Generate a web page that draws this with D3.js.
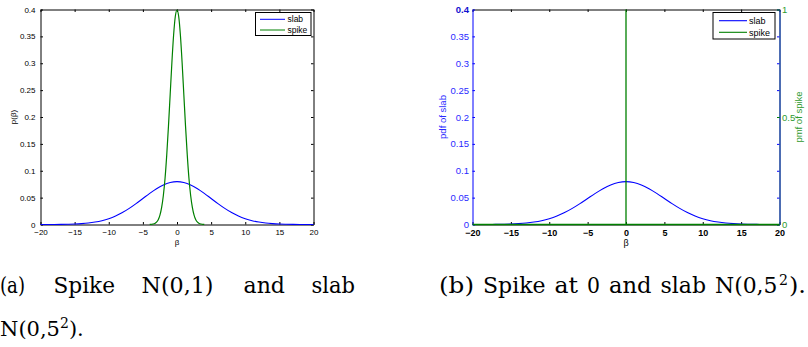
<!DOCTYPE html>
<html>
<head>
<meta charset="utf-8">
<script src="https://cdn.jsdelivr.net/npm/d3@7"></script>
<style>
  body { margin: 0; background: #fff; }
  svg { display: block; }
</style>
</head>
<body>
<svg id="fig" width="808" height="347"></svg>
<script>
// ---- data -------------------------------------------------------------
const betaTicks = [-20, -15, -10, -5, 0, 5, 10, 15, 20];
const betaTickLabels = ["\u221220", "\u221215", "\u221210", "\u22125", "0", "5", "10", "15", "20"];
const densityTicks = [0, 0.05, 0.1, 0.15, 0.2, 0.25, 0.3, 0.35, 0.4];
const densityTickLabels = ["0", "0.05", "0.1", "0.15", "0.2", "0.25", "0.3", "0.35", "0.4"];
const pmfTicks = [0, 0.5, 1];
const pmfTickLabels = ["0", "0.5", "1"];

// slab density N(0,5^2), sampled at integer beta
const slabBeta = [-20, -19, -18, -17, -16, -15, -14, -13, -12, -11, -10, -9, -8, -7, -6, -5, -4, -3, -2, -1,
  0, 1, 2, 3, 4, 5, 6, 7, 8, 9, 10, 11, 12, 13, 14, 15, 16, 17, 18, 19, 20];
const slabDensity = [0.0000, 0.0001, 0.0001, 0.0002, 0.0005, 0.0009, 0.0016, 0.0027, 0.0045, 0.0071,
  0.0108, 0.0158, 0.0222, 0.0300, 0.0389, 0.0484, 0.0579, 0.0666, 0.0737, 0.0782,
  0.0798,
  0.0782, 0.0737, 0.0666, 0.0579, 0.0484, 0.0389, 0.0300, 0.0222, 0.0158, 0.0108,
  0.0071, 0.0045, 0.0027, 0.0016, 0.0009, 0.0005, 0.0002, 0.0001, 0.0001, 0.0000];

// spike density N(0,1), sampled every quarter unit
const spikeBeta = [-4, -3.75, -3.5, -3.25, -3, -2.75, -2.5, -2.25, -2, -1.75, -1.5, -1.25, -1, -0.75, -0.5, -0.25,
  0, 0.25, 0.5, 0.75, 1, 1.25, 1.5, 1.75, 2, 2.25, 2.5, 2.75, 3, 3.25, 3.5, 3.75, 4];
const spikeDensity = [0.0001, 0.0004, 0.0009, 0.002, 0.0044, 0.009, 0.0175, 0.032, 0.054, 0.086, 0.130, 0.183,
  0.242, 0.301, 0.352, 0.387,
  0.399,
  0.387, 0.352, 0.301, 0.242, 0.183, 0.130, 0.086, 0.054, 0.032, 0.0175, 0.009, 0.0044, 0.002, 0.0009, 0.0004, 0.0001];

// spike as a point mass at 0
const pointMassBeta = [-20, 0, 0, 0, 20];
const pointMassProb = [0, 0, 1, 0, 0];

const seriesNames = ["slab", "spike"];

// ---- styling ----------------------------------------------------------
const BLUE = "#0000ff", GREEN = "#008000";
const SANS = "'Liberation Sans', Arial, sans-serif";
const SERIF = "'DejaVu Serif', 'Liberation Serif', serif";

const svg = d3.select("#fig");
svg.append("rect").attr("width", 808).attr("height", 347).attr("fill", "#fff");

function styleAxis(g, color, fontSize, weight) {
  g.select(".domain").attr("stroke", color).attr("stroke-width", 1);
  g.selectAll(".tick line").attr("stroke", color).attr("stroke-width", 1);
  g.selectAll(".tick text").attr("fill", color).attr("font-family", SANS)
    .attr("font-size", fontSize).attr("font-weight", weight || "normal");
  g.attr("font-family", null).attr("font-size", null);
  return g;
}
function labelFrom(values, labels) {
  return d => labels[values.indexOf(d)];
}

// ---- panel (a): two densities -----------------------------------------
{
  const x = d3.scaleLinear().domain([-20, 20]).range([40.5, 313.5]);
  const y = d3.scaleLinear().domain([0, 0.4]).range([224.5, 9.5]);
  const g = svg.append("g");
  const fs = 8;

  styleAxis(g.append("g").attr("transform", `translate(0,${y(0)})`)
    .call(d3.axisBottom(x).tickValues(betaTicks).tickFormat(labelFrom(betaTicks, betaTickLabels))
      .tickSize(-2.5).tickSizeOuter(0).tickPadding(5)), "#000", fs);
  styleAxis(g.append("g").attr("transform", `translate(0,${y(0.4)})`)
    .call(d3.axisTop(x).tickValues(betaTicks).tickFormat("").tickSize(-2.5).tickSizeOuter(0)), "#000", fs);
  styleAxis(g.append("g").attr("transform", `translate(${x(-20)},0)`)
    .call(d3.axisLeft(y).tickValues(densityTicks).tickFormat(labelFrom(densityTicks, densityTickLabels))
      .tickSize(-2.5).tickSizeOuter(0).tickPadding(5)), "#000", fs);
  styleAxis(g.append("g").attr("transform", `translate(${x(20)},0)`)
    .call(d3.axisRight(y).tickValues(densityTicks).tickFormat("").tickSize(-2.5).tickSizeOuter(0)), "#000", fs);

  const slabLine = d3.line().x(i => x(slabBeta[i])).y(i => y(slabDensity[i])).curve(d3.curveMonotoneX);
  const spikeLine = d3.line().x(i => x(spikeBeta[i])).y(i => y(spikeDensity[i])).curve(d3.curveMonotoneX);
  g.append("path").attr("d", slabLine(d3.range(slabBeta.length)))
    .attr("fill", "none").attr("stroke", BLUE).attr("stroke-width", 1.1);
  g.append("path").attr("d", spikeLine(d3.range(spikeBeta.length)))
    .attr("fill", "none").attr("stroke", GREEN).attr("stroke-width", 1.2);

  g.append("text").attr("x", (x(-20) + x(20)) / 2).attr("y", 244.5).attr("text-anchor", "middle")
    .attr("font-family", SANS).attr("font-size", fs).text("\u03b2");
  g.append("text").attr("transform", `translate(15.5,${(y(0) + y(0.4)) / 2}) rotate(-90)`)
    .attr("text-anchor", "middle").attr("font-family", SANS).attr("font-size", fs).text("p(\u03b2)");

  // legend
  const lg = g.append("g");
  lg.append("rect").attr("x", 255.5).attr("y", 12.5).attr("width", 55.5).attr("height", 23)
    .attr("fill", "#fff").attr("stroke", "#000").attr("stroke-width", 1);
  [BLUE, GREEN].forEach((c, i) => {
    const yy = 19.3 + i * 10.7;
    lg.append("line").attr("x1", 260).attr("x2", 285).attr("y1", yy).attr("y2", yy)
      .attr("stroke", c).attr("stroke-width", 1);
    lg.append("text").attr("x", 287.5).attr("y", yy + 3).attr("font-family", SANS)
      .attr("font-size", 8.5).text(seriesNames[i]);
  });
}

// ---- panel (b): slab density with point-mass spike --------------------
{
  const x = d3.scaleLinear().domain([-20, 20]).range([472.5, 779.5]);
  const y = d3.scaleLinear().domain([0, 0.4]).range([224.5, 9.5]);
  const y2 = d3.scaleLinear().domain([0, 1]).range([224.5, 9.5]);
  const g = svg.append("g");
  const fs = 9.5;

  styleAxis(g.append("g").attr("transform", `translate(0,${y(0)})`)
    .call(d3.axisBottom(x).tickValues(betaTicks).tickFormat(labelFrom(betaTicks, betaTickLabels))
      .tickSize(-2.5).tickSizeOuter(0).tickPadding(5.5)), "#000", 9, "bold");
  styleAxis(g.append("g").attr("transform", `translate(0,${y(0.4)})`)
    .call(d3.axisTop(x).tickValues(betaTicks).tickFormat("").tickSize(-2.5).tickSizeOuter(0)), "#000", fs);
  const leftAx = styleAxis(g.append("g").attr("transform", `translate(${x(-20)},0)`)
    .call(d3.axisLeft(y).tickValues(densityTicks).tickFormat(labelFrom(densityTicks, densityTickLabels))
      .tickSize(-2.5).tickSizeOuter(0).tickPadding(3.5)), BLUE, fs);
  leftAx.selectAll(".tick text").attr("fill", "#2a2aff");
  leftAx.selectAll(".tick text").filter(d => d === 0.4).attr("font-weight", "bold").attr("fill", "#1010d0");
  // mirrored slab ticks on the right edge
  styleAxis(g.append("g").attr("transform", `translate(${x(20)},0)`)
    .call(d3.axisRight(y).tickValues(densityTicks).tickFormat("").tickSize(-2.5).tickSizeOuter(0)), BLUE, fs);
  const rightAx = styleAxis(g.append("g").attr("transform", `translate(${x(20)},0)`)
    .call(d3.axisRight(y2).tickValues(pmfTicks).tickFormat(labelFrom(pmfTicks, pmfTickLabels))
      .tickSize(-2.5).tickSizeOuter(0).tickPadding(2.5)), GREEN, fs);
  rightAx.select(".domain").attr("stroke", "#1a5a66");
  rightAx.selectAll(".tick text").attr("fill", "#2e9a2e");

  const slabLine = d3.line().x(i => x(slabBeta[i])).y(i => y(slabDensity[i])).curve(d3.curveMonotoneX);
  const massLine = d3.line().x(i => x(pointMassBeta[i])).y(i => y2(pointMassProb[i]));
  g.append("path").attr("d", slabLine(d3.range(slabBeta.length)))
    .attr("fill", "none").attr("stroke", BLUE).attr("stroke-width", 1.1);
  g.append("path").attr("d", massLine(d3.range(pointMassBeta.length)))
    .attr("fill", "none").attr("stroke", GREEN).attr("stroke-width", 1.3);

  g.append("text").attr("x", (x(-20) + x(20)) / 2).attr("y", 246).attr("text-anchor", "middle")
    .attr("font-family", SANS).attr("font-size", 9).text("\u03b2");
  g.append("text").attr("transform", `translate(445.5,${(y(0) + y(0.4)) / 2}) rotate(-90)`)
    .attr("text-anchor", "middle").attr("font-family", SANS).attr("font-size", fs)
    .attr("fill", "#2a2aff").text("pdf of slab");
  g.append("text").attr("transform", `translate(802,${(y(0) + y(0.4)) / 2}) rotate(-90)`)
    .attr("text-anchor", "middle").attr("font-family", SANS).attr("font-size", fs)
    .attr("fill", "#2e9a2e").text("pmf of spike");

  // legend
  const lg = g.append("g");
  lg.append("rect").attr("x", 713).attr("y", 12.5).attr("width", 62).attr("height", 26.5)
    .attr("fill", "#fff").attr("stroke", "#000").attr("stroke-width", 1);
  [BLUE, GREEN].forEach((c, i) => {
    const yy = 20.7 + i * 11.6;
    lg.append("line").attr("x1", 719).attr("x2", 747).attr("y1", yy).attr("y2", yy)
      .attr("stroke", c).attr("stroke-width", 1.1);
    lg.append("text").attr("x", 749).attr("y", yy + 3.3).attr("font-family", SANS)
      .attr("font-size", 9).text(seriesNames[i]);
  });
}

// ---- sub-figure captions ----------------------------------------------
const cap = svg.append("g").attr("font-family", SERIF).attr("fill", "#000");
function word(txt, x0, x1, base, size) {
  cap.append("text").attr("x", x0).attr("y", base).attr("font-size", size || 22)
    .attr("textLength", x1 - x0).attr("lengthAdjust", "spacingAndGlyphs").text(txt);
}
// (a), justified over the column width
word("(a)", 0, 25, 293);
word("Spike", 53.5, 115, 293);
word("N(0,1)", 141.5, 213.5, 293);
word("and", 243.5, 285, 293);
word("slab", 311.5, 355, 293);
// second line of (a): one text run with a raised exponent
{
  const t = cap.append("text").attr("x", 0).attr("y", 336).attr("font-size", 21);
  t.append("tspan").text("N(0,5");
  t.append("tspan").attr("font-size", 14).attr("dy", -8.5).text("2");
  t.append("tspan").attr("dy", 8.5).text(").");
}
// (b)
word("(b)", 439, 474, 293);
word("Spike", 483, 545.5, 293);
word("at", 554.5, 578, 293);
word("0", 587, 600, 293);
word("and", 609, 651.5, 293);
word("slab", 660.5, 706, 293);
word("N(0,5", 715, 777.5, 293);
word("2", 779, 788, 284.5, 15);
word(").", 789, 806, 293);
</script>
</body>
</html>
